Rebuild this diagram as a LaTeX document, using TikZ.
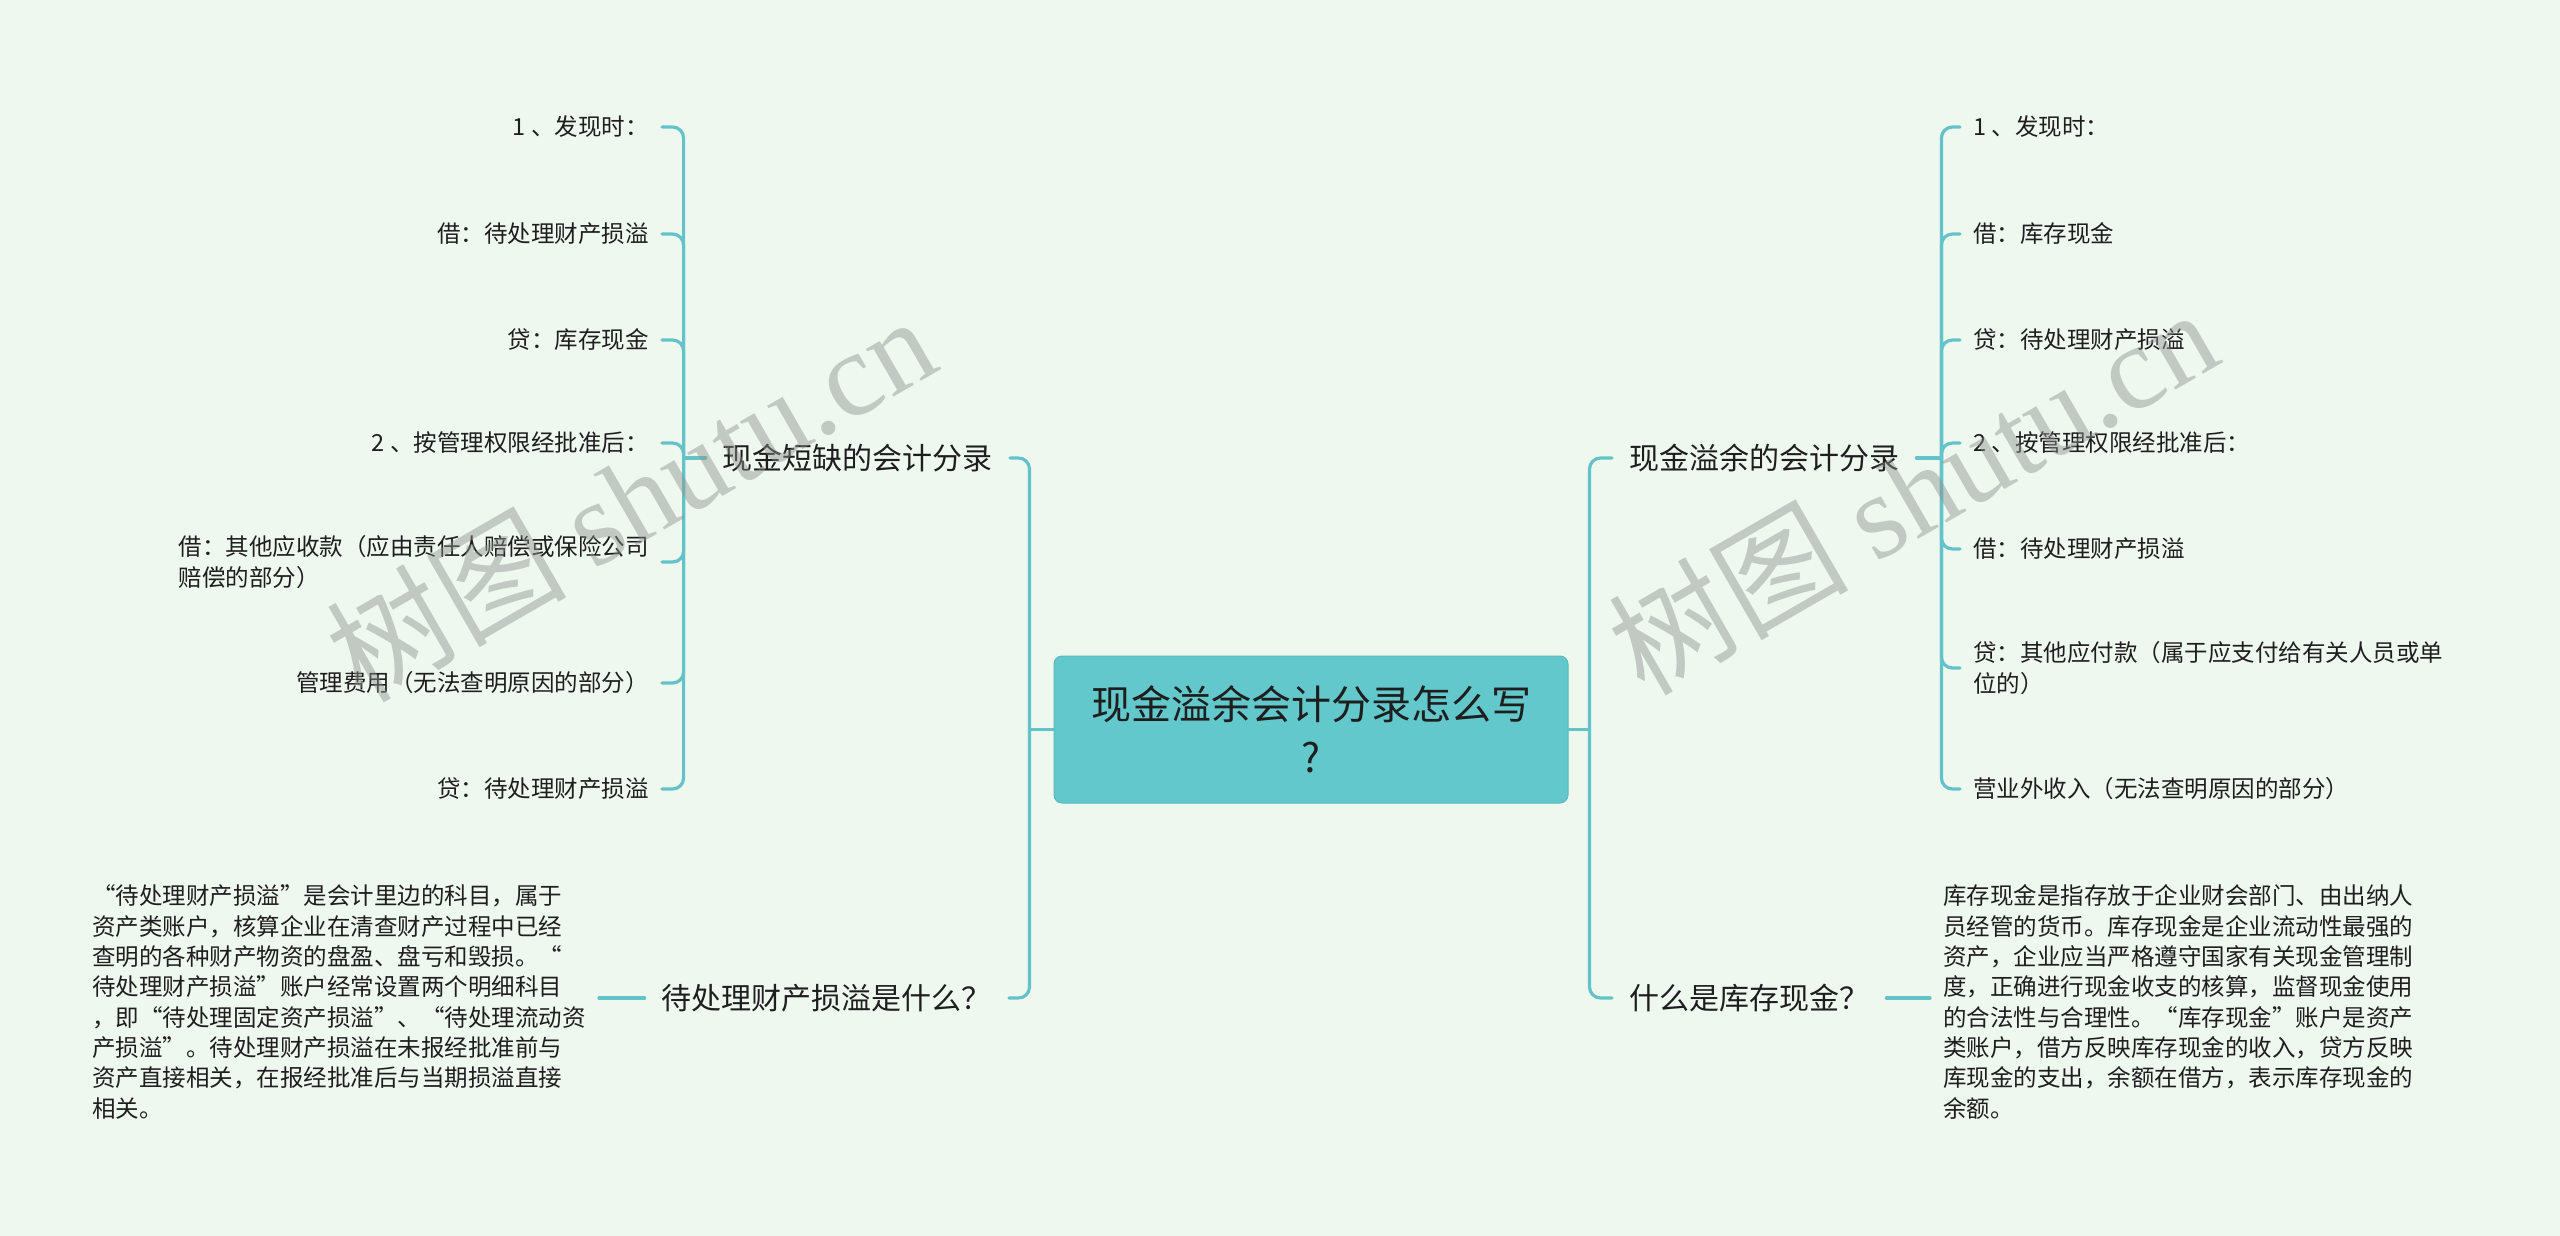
\documentclass[tikz,border=0pt]{standalone}
\usepackage{fontspec}
\setmainfont{Noto Sans CJK SC}
\newfontfamily\wmfont{Liberation Serif}
\definecolor{bgmint}{HTML}{EFF8EF}
\definecolor{linecol}{HTML}{64C3C8}
\definecolor{rootfill}{HTML}{63C8CB}
\definecolor{inkc}{HTML}{1E1E1E}
\definecolor{wmgray}{HTML}{8D918D}
\begin{document}
\begin{tikzpicture}[x=1pt,y=-1pt,line cap=round,
  link/.style={draw=linecol,line width=3.2pt,rounded corners=11pt},
  leaf/.style={text=inkc,font=\fontsize{23.5}{30.3}\selectfont,inner xsep=13pt,inner ysep=3pt,align=left},
  branch/.style={text=inkc,font=\fontsize{30}{36}\selectfont,inner xsep=17pt,inner ysep=3pt},
  rootbox/.style={fill=rootfill,draw=rootfill!92!black,line width=1pt,rounded corners=8pt,
    minimum width=514pt,minimum height=147pt,text=inkc,font=\fontsize{40}{53}\selectfont,align=center},
  wmark/.style={text=wmgray,text opacity=0.45,rotate=30,font=\fontsize{120}{120}\selectfont}]
  \fill[bgmint] (0,0) rectangle (2560,1236);
  \useasboundingbox (0,0) rectangle (2560,1236);

  \node[rootbox] (root) at (1311,729.5) {现金溢余会计分录怎么写\\?};

  \node[branch,anchor=east] (lshort) at (1010,458) {现金短缺的会计分录};
  \node[branch,anchor=east] (lwhat) at (1009,998) {待处理财产损溢是什么？};
  \node[branch,anchor=west] (rover) at (1612,458) {现金溢余的会计分录};
  \node[branch,anchor=west] (rwhat) at (1612,998) {什么是库存现金？};

  \node[leaf,anchor=east] (la) at (662,127) {1 、发现时：};
  \node[leaf,anchor=east] (lb) at (662,234) {借：待处理财产损溢};
  \node[leaf,anchor=east] (lc) at (662,340) {贷：库存现金};
  \node[leaf,anchor=east] (ld) at (662,443) {2 、按管理权限经批准后：};
  \node[leaf,anchor=east] (le) at (662,562) {借：其他应收款（应由责任人赔偿或保险公司\\赔偿的部分）};
  \node[leaf,anchor=east] (lf) at (662,683) {管理费用（无法查明原因的部分）};
  \node[leaf,anchor=east] (lg) at (662,789) {贷：待处理财产损溢};

  \node[leaf,anchor=west] (ra) at (1960,127) {1 、发现时：};
  \node[leaf,anchor=west] (rb) at (1960,234) {借：库存现金};
  \node[leaf,anchor=west] (rc) at (1960,340) {贷：待处理财产损溢};
  \node[leaf,anchor=west] (rd) at (1960,443) {2 、按管理权限经批准后：};
  \node[leaf,anchor=west] (re) at (1960,549) {借：待处理财产损溢};
  \node[leaf,anchor=west] (rf) at (1960,668) {贷：其他应付款（属于应支付给有关人员或单\\位的）};
  \node[leaf,anchor=west] (rg) at (1960,789) {营业外收入（无法查明原因的部分）};

  \node[leaf,anchor=east] (lnote) at (599,1002) {“待处理财产损溢”是会计里边的科目，属于\\资产类账户，核算企业在清查财产过程中已经\\查明的各种财产物资的盘盈、盘亏和毁损。“\\待处理财产损溢”账户经常设置两个明细科目\\，即“待处理固定资产损溢”、“待处理流动资\\产损溢”。待处理财产损溢在未报经批准前与\\资产直接相关，在报经批准后与当期损溢直接\\相关。};
  \node[leaf,anchor=west] (rnote) at (1930,1002) {库存现金是指存放于企业财会部门、由出纳人\\员经管的货币。库存现金是企业流动性最强的\\资产，企业应当严格遵守国家有关现金管理制\\度，正确进行现金收支的核算，监督现金使用\\的合法性与合理性。“库存现金”账户是资产\\类账户，借方反映库存现金的收入，贷方反映\\库现金的支出，余额在借方，表示库存现金的\\余额。};

  \path (root.west) ++(-24,0) coordinate (lmain);
  \path (root.east) ++(21,0) coordinate (rmain);
  \path (lshort.west) ++(-22,0) coordinate (lsub);
  \path (rover.east) ++(25,0) coordinate (rsub);
  \draw[link] (root.west) -- (lmain);
  \draw[link] (root.east) -- (rmain);
  \draw[link] (lmain) |- (lshort.east);
  \draw[link] (lmain) |- (lwhat.east);
  \draw[link] (rmain) |- (rover.west);
  \draw[link] (rmain) |- (rwhat.west);
  \draw[link] (lshort.west) -- (lsub);
  \draw[link] (rover.east) -- (rsub);
  \foreach \n in {la,lb,lc,ld,le,lf,lg}
    \draw[link] (lsub) |- (\n.east);
  \foreach \n in {ra,rb,rc,rd,re,rf,rg}
    \draw[link] (rsub) |- (\n.west);
  \draw[link] (lwhat.west) -- (lwhat.west -| lnote.east);
  \draw[link] (rwhat.east) -- (rwhat.east -| rnote.west);

  \node[wmark] (wmleft) at (630,497) {树图 {\wmfont shutu.cn}};
  \node[wmark] (wmright) at (1912,490) {树图 {\wmfont shutu.cn}};
\end{tikzpicture}
\end{document}
